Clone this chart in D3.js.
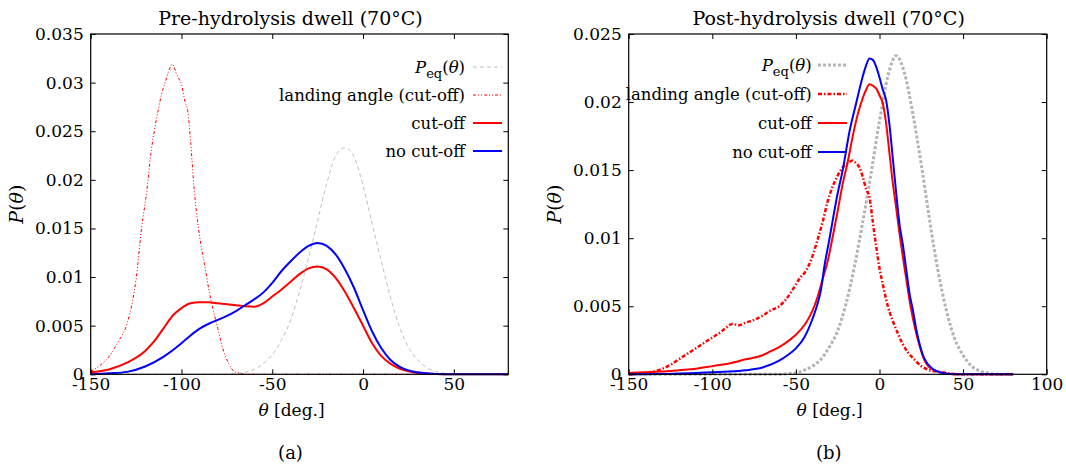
<!DOCTYPE html>
<html lang="en">
<head>
    <meta charset="UTF-8">
    <script src="https://d3js.org/d3.v7.min.js"></script>
    <title>dwell angle distributions</title>
    <style>
        body { margin: 0; background: #fff; }
    </style>
</head>
<body>
    <script>
        // ---- data: [theta (deg), P(theta)] ----
        // (a) pre-hydrolysis dwell
        const preEq = [[-150,0],[-75,0],[-70,0.0001],[-65,0.0002],[-60,0.0005],[-55,0.0011],[-50,0.002],[-45,0.0035],
            [-40,0.0055],[-35,0.0085],[-30,0.012],[-25,0.0158],[-20,0.0196],[-15,0.0225],[-10,0.0233],[-5,0.0224],
            [0,0.0194],[5,0.0155],[10,0.0117],[15,0.008],[20,0.0049],[25,0.0028],[30,0.0015],[35,0.0007],
            [40,0.0003],[45,0.0001],[50,0],[80,0]];
        const preLanding = [[-150,0.0003],[-145,0.0009],[-140,0.0018],[-135,0.0033],[-130,0.0052],[-127,0.0075],
            [-125,0.0098],[-122,0.015],[-119,0.019],[-117,0.0225],[-115,0.025],[-113,0.027],[-111,0.0288],
            [-109,0.03],[-107,0.0312],[-105,0.0319],[-104,0.0316],[-103,0.031],[-102,0.0306],[-100,0.0298],
            [-98,0.028],[-96.5,0.027],[-95,0.024],[-93,0.019],[-91,0.0155],[-89,0.013],[-87,0.011],[-85,0.0088],
            [-82,0.0062],[-80,0.0047],[-77,0.0025],[-74,0.0011],[-71,0.0003],[-68,0.0001],[-65,0],[80,0]];
        const preCut = [[-150,0.0002],[-140,0.0005],[-130,0.0012],[-120,0.0024],[-115,0.0034],[-110,0.0047],
            [-105,0.006],[-100,0.0068],[-95,0.0073],[-90,0.0074],[-85,0.0074],[-80,0.0073],[-75,0.0072],
            [-70,0.0071],[-65,0.007],[-60,0.00695],[-55,0.0073],[-50,0.008],[-45,0.0087],[-40,0.0095],
            [-35,0.0103],[-30,0.0109],[-25,0.0111],[-20,0.0108],[-15,0.0099],[-10,0.0085],[-5,0.0068],
            [0,0.005],[5,0.0032],[10,0.0019],[15,0.0011],[20,0.0006],[25,0.0003],[30,0.00015],[40,0.00003],
            [50,0],[80,0]];
        const preNoCut = [[-150,0],[-140,0.0001],[-130,0.00025],[-120,0.0008],[-110,0.0018],[-100,0.0032],
            [-95,0.004],[-90,0.0047],[-85,0.0052],[-80,0.0056],[-75,0.006],[-70,0.0065],[-65,0.0071],
            [-60,0.0077],[-55,0.0084],[-50,0.0094],[-45,0.0106],[-40,0.0116],[-35,0.0125],[-30,0.0132],
            [-25,0.0135],[-20,0.0132],[-15,0.0123],[-10,0.0108],[-5,0.0089],[0,0.0066],[5,0.0044],
            [10,0.0027],[15,0.0015],[20,0.0008],[25,0.0004],[30,0.0002],[40,0.00003],[50,0],[80,0]];

        // (b) post-hydrolysis dwell
        const postEq = [[-150,0],[-60,0],[-55,0.00005],[-50,0.0001],[-45,0.0003],[-40,0.0006],[-35,0.0011],
            [-30,0.002],[-25,0.0032],[-20,0.0052],[-15,0.0079],[-10,0.0112],[-5,0.0148],[0,0.0186],[5,0.0219],
            [10,0.0234],[15,0.0221],[20,0.0191],[25,0.0154],[30,0.0113],[35,0.0076],[40,0.0047],[45,0.0026],
            [50,0.0014],[55,0.0006],[60,0.00025],[65,0.0001],[70,0],[80,0]];
        const postLanding = [[-150,0],[-145,0.00005],[-140,0.0001],[-135,0.0002],[-130,0.0004],[-125,0.0007],
            [-120,0.0011],[-115,0.0015],[-110,0.0019],[-105,0.0023],[-100,0.0027],[-95,0.0031],[-92,0.0034],
            [-88,0.0037],[-84,0.0036],[-80,0.0038],[-75,0.004],[-70,0.0043],[-65,0.0047],[-60,0.005],
            [-56,0.0055],[-52,0.0062],[-48,0.007],[-44,0.0076],[-40,0.0087],[-37,0.0099],[-34,0.0112],
            [-31,0.0127],[-28,0.0138],[-25,0.0146],[-22,0.0152],[-19,0.0155],[-16,0.0157],[-14,0.0155],
            [-12,0.0152],[-10,0.0145],[-8,0.0136],[-6,0.013],[-4,0.0112],[-2,0.0094],[0,0.0078],[2,0.0066],
            [5,0.005],[8,0.0039],[11,0.003],[14,0.0022],[17,0.0016],[20,0.0012],[25,0.0006],[30,0.0003],
            [35,0.0002],[40,0.0001],[48,0],[80,0]];
        const postCut = [[-150,0.0001],[-140,0.00015],[-130,0.0002],[-120,0.0003],[-110,0.0004],[-100,0.0006],
            [-90,0.0008],[-80,0.0011],[-70,0.0014],[-65,0.0017],[-60,0.002],[-55,0.0024],[-50,0.0029],
            [-45,0.0036],[-42,0.0042],[-40,0.0047],[-37,0.0057],[-34,0.007],[-31,0.0083],[-28,0.0101],[-25,0.012],
            [-22,0.014],[-19,0.0156],[-16,0.0175],[-13,0.0191],[-10,0.0203],[-8,0.0209],[-6,0.0213],
            [-4,0.0212],[-2,0.021],[0,0.0205],[2,0.0199],[4,0.0184],[6,0.0162],[8,0.014],[10,0.0122],
            [12,0.0103],[14,0.0086],[16,0.007],[18,0.0054],[20,0.0041],[22,0.003],[24,0.0021],[26,0.0013],
            [28,0.0008],[30,0.0005],[33,0.0003],[36,0.00015],[40,0.00005],[45,0],[80,0]];
        const postNoCut = [[-150,0],[-130,0.00002],[-110,0.0001],[-100,0.00015],[-90,0.0002],[-80,0.0003],
            [-70,0.0005],[-60,0.001],[-55,0.0014],[-50,0.0019],[-45,0.0027],[-40,0.0041],[-37,0.0052],
            [-35,0.0062],[-33,0.0079],[-30,0.0099],[-27,0.012],[-25,0.0133],[-22,0.015],[-18,0.0178],
            [-14,0.0199],[-10,0.0219],[-8,0.0227],[-6,0.0232],[-4,0.0231],[-2,0.0226],[0,0.0218],[2,0.0209],
            [4,0.0201],[6,0.0183],[8,0.0158],[10,0.0133],[12,0.011],[14,0.0095],[16,0.0077],[18,0.0059],
            [20,0.0047],[22,0.0033],[24,0.0022],[26,0.0014],[28,0.0009],[30,0.0006],[33,0.0003],
            [36,0.00015],[40,0.00005],[45,0],[80,0]];

        // ticks
        const preXTicks = [-150, -100, -50, 0, 50];
        const postXTicks = [-150, -100, -50, 0, 50, 100];
        const preYTicks = [0, 0.005, 0.01, 0.015, 0.02, 0.025, 0.03, 0.035];
        const postYTicks = [0, 0.005, 0.01, 0.015, 0.02, 0.025];

        const legendNames = ["eq", "landing angle (cut-off)", "cut-off", "no cut-off"];

        const FONT = "'DejaVu Serif', serif";
        const FS = 17;   // base text size
        const width = 1066, height = 464;
        const svg = d3.select("body").append("svg")
            .attr("width", width)
            .attr("height", height)
            .style("font-family", FONT);

        const panels = [
            {
                title: "Pre-hydrolysis dwell (70°C)", caption: "(a)",
                left: 90.7, right: 508.3, top: 34, bottom: 374.3,
                xDomain: [-150, 80], yDomain: [0, 0.035],
                xTicks: preXTicks, yTicks: preYTicks,
                series: [preEq, preLanding, preCut, preNoCut],
                styles: [
                    { stroke: "#c0c0c0", width: 1, dash: "4,3" },
                    { stroke: "#ff0000", width: 1, dash: "3,2,1,2,1,2" },
                    { stroke: "#ff0000", width: 2, dash: null },
                    { stroke: "#0000ff", width: 2, dash: null }
                ],
                legendRight: 465, legendLine: [473, 502], legendY: [67, 95, 123, 151]
            },
            {
                title: "Post-hydrolysis dwell (70°C)", caption: "(b)",
                left: 628.7, right: 1046.7, top: 34, bottom: 374.3,
                xDomain: [-150, 100], yDomain: [0, 0.025],
                xTicks: postXTicks, yTicks: postYTicks,
                series: [postEq, postLanding, postCut, postNoCut],
                styles: [
                    { stroke: "#b4b4b4", width: 3, dash: "3,2" },
                    { stroke: "#ff0000", width: 2.5, dash: "4,2,1.5,2" },
                    { stroke: "#ff0000", width: 2, dash: null },
                    { stroke: "#0000ff", width: 2, dash: null }
                ],
                legendRight: 811.7, legendLine: [818, 847], legendY: [65, 94, 123, 152]
            }
        ];

        panels.forEach(drawPanel);

        function drawPanel(p) {
            const x = d3.scaleLinear().domain(p.xDomain).range([p.left, p.right]);
            const y = d3.scaleLinear().domain(p.yDomain).range([p.bottom, p.top]);
            const g = svg.append("g");
            const tick = 5;

            // curves first, frame on top like gnuplot
            const line = d3.line()
                .x(d => x(d[0]))
                .y(d => y(d[1]))
                .curve(d3.curveMonotoneX);

            p.series.forEach((s, i) => {
                const st = p.styles[i];
                g.append("path")
                    .datum(s)
                    .attr("d", line)
                    .attr("fill", "none")
                    .attr("stroke", st.stroke)
                    .attr("stroke-width", st.width)
                    .attr("stroke-dasharray", st.dash);
            });

            // axes (ticks inward, mirrored)
            const ax = g.append("g").attr("transform", `translate(0,${p.bottom})`)
                .call(d3.axisBottom(x).tickValues(p.xTicks).tickSizeInner(-tick).tickSizeOuter(0)
                    .tickPadding(4).tickFormat(d => String(d)));
            const ay = g.append("g").attr("transform", `translate(${p.left},0)`)
                .call(d3.axisLeft(y).tickValues(p.yTicks).tickSizeInner(-tick).tickSizeOuter(0)
                    .tickPadding(7).tickFormat(d => String(d)));
            const at = g.append("g").attr("transform", `translate(0,${p.top})`)
                .call(d3.axisTop(x).tickValues(p.xTicks).tickSizeInner(-tick).tickSizeOuter(0).tickFormat(""));
            const ar = g.append("g").attr("transform", `translate(${p.right},0)`)
                .call(d3.axisRight(y).tickValues(p.yTicks).tickSizeInner(-tick).tickSizeOuter(0).tickFormat(""));
            [ax, ay, at, ar].forEach(a => {
                a.select(".domain").remove();
                a.attr("font-family", FONT).attr("font-size", FS);
                a.selectAll("line").attr("stroke", "#000");
                a.selectAll("text").attr("fill", "#000").style("font-family", FONT).style("font-size", FS + "px");
            });

            g.append("rect")
                .attr("x", p.left).attr("y", p.top)
                .attr("width", p.right - p.left).attr("height", p.bottom - p.top)
                .attr("fill", "none").attr("stroke", "#000").attr("stroke-width", 1.2);

            const cx = (p.left + p.right) / 2 - 9;

            g.append("text")
                .attr("x", cx).attr("y", 25)
                .attr("text-anchor", "middle")
                .style("font-family", FONT)
                .style("font-size", "19px")
                .text(p.title);

            const xl = g.append("text")
                .attr("x", cx + 1).attr("y", 416)
                .attr("text-anchor", "middle")
                .style("font-family", FONT)
                .style("font-size", FS + "px");
            xl.append("tspan").style("font-style", "italic").text("θ");
            xl.append("tspan").text(" [deg.]");

            const yl = g.append("text")
                .attr("transform", `translate(${p.left - 68},${(p.top + p.bottom) / 2}) rotate(-90)`)
                .attr("text-anchor", "middle")
                .style("font-family", FONT)
                .style("font-size", "19px");
            yl.append("tspan").style("font-style", "italic").text("P");
            yl.append("tspan").text("(");
            yl.append("tspan").style("font-style", "italic").text("θ");
            yl.append("tspan").text(")");

            g.append("text")
                .attr("x", cx).attr("y", 459)
                .attr("text-anchor", "middle")
                .style("font-family", FONT)
                .style("font-size", "18px")
                .text(p.caption);

            // legend
            legendNames.forEach((name, i) => {
                const st = p.styles[i];
                const ly = p.legendY[i];
                const t = g.append("text")
                    .attr("x", p.legendRight).attr("y", ly + 6)
                    .attr("text-anchor", "end")
                    .style("font-family", FONT)
                    .style("font-size", "16.5px");
                if (name === "eq") {
                    t.append("tspan").style("font-style", "italic").text("P");
                    t.append("tspan").attr("dy", 5).style("font-size", "13px").text("eq");
                    t.append("tspan").attr("dy", -5).text("(");
                    t.append("tspan").style("font-style", "italic").text("θ");
                    t.append("tspan").text(")");
                } else {
                    t.text(name);
                }
                g.append("line")
                    .attr("x1", p.legendLine[0]).attr("x2", p.legendLine[1])
                    .attr("y1", ly).attr("y2", ly)
                    .attr("stroke", st.stroke)
                    .attr("stroke-width", st.width)
                    .attr("stroke-dasharray", st.dash);
            });
        }
    </script>
</body>
</html>
